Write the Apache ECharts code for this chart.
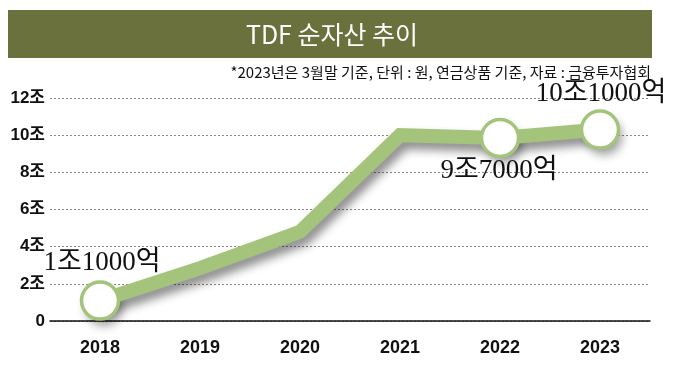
<!DOCTYPE html>
<html><head><meta charset="utf-8">
<script src="https://cdn.jsdelivr.net/npm/echarts@6/dist/echarts.min.js"></script>
<style>html,body{margin:0;padding:0;background:#fff}#c{width:680px;height:367px}</style>
</head><body><div id="c"></div>
<script>
var titleText = 'TDF 순자산 추이';
var noteText = '*2023년은 3월말 기준, 단위 : 원, 연금상품 기준, 자료 : 금융투자협회';
var years = ['2018', '2019', '2020', '2021', '2022', '2023'];
var netAssets = [1.1, 2.85, 4.8, 10.0, 9.85, 10.3];
var pointLabels = ['1조1000억', '', '', '', '9조7000억', '10조1000억'];
var markedPoints = [true, false, false, false, true, true];
var yTickValues = [0, 2, 4, 6, 8, 10, 12];
var yTickLabels = ['0', '2조', '4조', '6조', '8조', '10조', '12조'];

var labelOffsets = [[2, -38], [0, 0], [0, 0], [0, 0], [-1, 33], [1, -36]];
var seriesData = netAssets.map(function (v, i) {
  var d = { value: v, symbolSize: markedPoints[i] ? 37 : 0 };
  if (pointLabels[i]) {
    d.label = { show: true, formatter: pointLabels[i], offset: labelOffsets[i] };
  }
  return d;
});
var shadowData = netAssets.map(function (v, i) {
  return { value: v, symbolSize: markedPoints[i] ? 37 : 0 };
});

var chart = echarts.init(document.getElementById('c'), null, { renderer: 'canvas' });
chart.setOption({
  animation: false,
  graphic: [
    { type: 'rect', shape: { x: 8, y: 10, width: 644, height: 48 }, style: { fill: '#6a713d' }, z: 0 },
    { type: 'text', x: 332, y: 34, style: { text: titleText, fill: '#fff', font: '400 25px "Noto Sans CJK KR"', textAlign: 'center', textVerticalAlign: 'middle' }, z: 1 },
    { type: 'text', x: 651, y: 72, style: { text: noteText, fill: '#111', font: '15px "Noto Sans CJK KR"', textAlign: 'right', textVerticalAlign: 'middle' }, z: 1 }
  ],
  grid: { left: 50, right: 30, top: 98, bottom: 46 },
  xAxis: {
    type: 'category', data: years, boundaryGap: true,
    axisLine: { show: true, lineStyle: { color: '#111', width: 1.5 } },
    axisTick: { show: false },
    axisLabel: { color: '#111', fontSize: 18, fontWeight: 'bold', fontFamily: 'Liberation Sans', margin: 18 }
  },
  yAxis: {
    type: 'value', min: 0, max: 12, interval: 2,
    axisLine: { show: false }, axisTick: { show: false },
    splitLine: { show: true, lineStyle: { color: '#888', type: [2, 2], width: 1 } },
    axisLabel: {
      color: '#111', fontSize: 17, fontWeight: 'bold', fontFamily: '"Liberation Sans", "Noto Sans CJK KR"', margin: 5,
      formatter: function (v) { var i = yTickValues.indexOf(v); return i >= 0 ? yTickLabels[i] : ''; }
    }
  },
  series: [{
    type: 'scatter', data: shadowData, symbol: 'circle', silent: true,
    itemStyle: { color: '#fff', shadowColor: 'rgba(0,0,0,0.45)', shadowBlur: 10, shadowOffsetX: 4, shadowOffsetY: 7 },
    z: 2
  }, {
    type: 'line', data: seriesData, symbol: 'circle',
    lineStyle: { color: '#a4c47c', width: 14, shadowColor: 'rgba(0,0,0,0.45)', shadowBlur: 10, shadowOffsetX: 4, shadowOffsetY: 7, cap: 'round', join: 'miter' },
    itemStyle: { color: '#fff', borderColor: '#a4c47c', borderWidth: 3.5 },
    label: { show: false, color: '#111', fontSize: 27, fontFamily: '"Liberation Serif", "Noto Sans CJK KR"', position: 'inside' },
    z: 3
  }]
});
</script></body></html>
